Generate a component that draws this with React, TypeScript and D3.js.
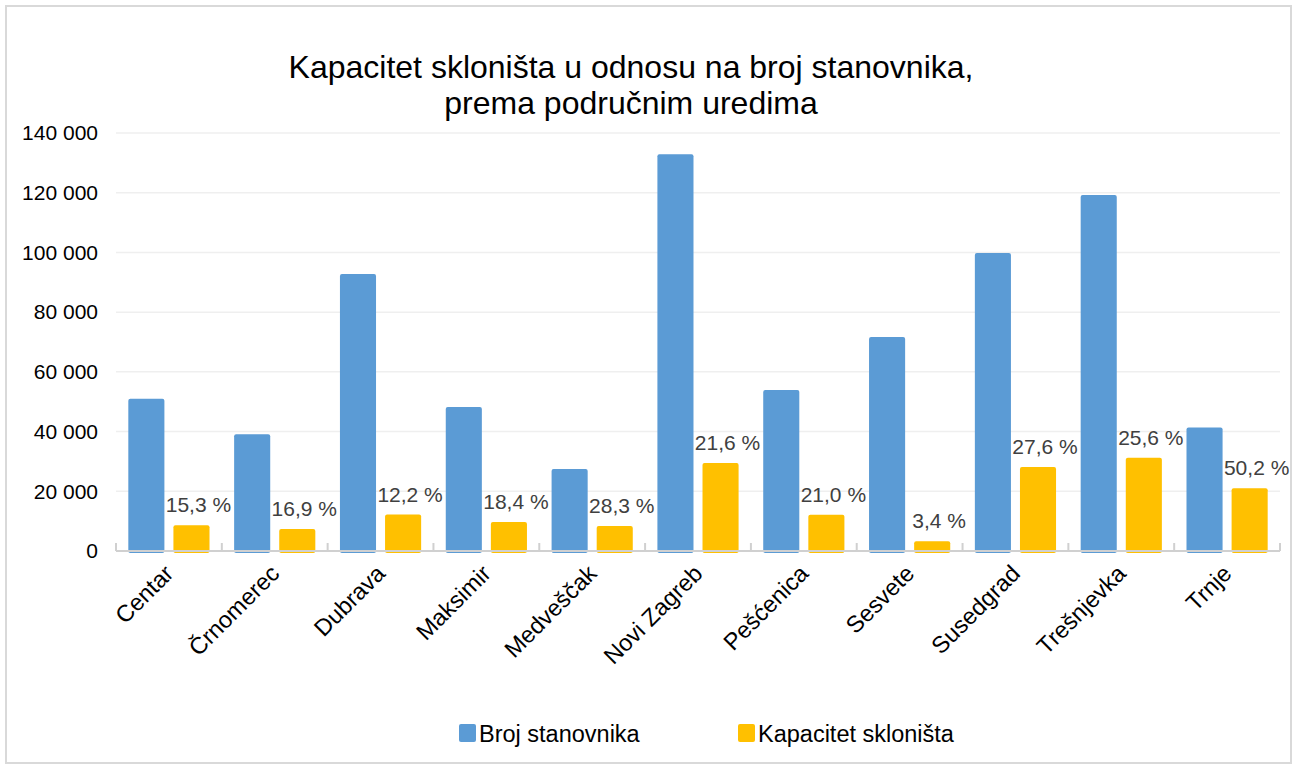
import * as d3 from "d3";

const districts = [
  "Centar",
  "Črnomerec",
  "Dubrava",
  "Maksimir",
  "Medveščak",
  "Novi Zagreb",
  "Pešćenica",
  "Sesvete",
  "Susedgrad",
  "Trešnjevka",
  "Trnje",
];
const population = [51000, 39100, 92800, 48200, 27500, 132900, 53900, 71700, 99800, 119200, 41400];
const shelterCapacity = [8600, 7400, 12200, 9700, 8400, 29500, 12100, 3300, 28100, 31200, 21000];
const shares = ["15,3 %", "16,9 %", "12,2 %", "18,4 %", "28,3 %", "21,6 %", "21,0 %", "3,4 %", "27,6 %", "25,6 %", "50,2 %"];
const yTicks = [0, 20000, 40000, 60000, 80000, 100000, 120000, 140000];
const seriesNames = ["Broj stanovnika", "Kapacitet skloništa"];
const colors = ["#5B9BD5", "#FFC000"];

const W = 1298;
const H = 769;
const font = "Arial, 'Liberation Sans', sans-serif";

export default function App() {
  const margin = { left: 116, right: 18, top: 133, bottom: 218 };
  const x = d3
    .scaleBand<string>()
    .domain(districts)
    .range([margin.left, W - margin.right])
    .padding(0);
  const inner = d3
    .scaleBand<string>()
    .domain(seriesNames)
    .range([0, x.bandwidth()])
    .paddingInner(0.2)
    .paddingOuter(0.273);
  const y = d3.scaleLinear().domain([0, 140000]).range([H - margin.bottom, margin.top]);
  const fmt = (v: number) => d3.format(",")(v).replace(/,/g, " ");
  const y0 = y(0);

  return (
    <svg
      width={W}
      height={H}
      style={{ position: "absolute", left: 0, top: 0, background: "#fff" }}
      fontFamily={font}
    >
      <rect x={6} y={6} width={1285} height={757} fill="#fff" stroke="#d9d9d9" strokeWidth={2} />

      <text x={631} y={78} textAnchor="middle" fontSize={32} fill="#000">
        <tspan x={631}>Kapacitet skloništa u odnosu na broj stanovnika,</tspan>
        <tspan x={631} dy={36}>prema područnim uredima</tspan>
      </text>

      {yTicks.map((t) => (
        <g key={t}>
          {t > 0 && (
            <line x1={margin.left} x2={W - margin.right} y1={y(t)} y2={y(t)} stroke="#efefef" strokeWidth={1.5} />
          )}
          <text x={98} y={y(t)} dy="0.35em" textAnchor="end" fontSize={21} fill="#000">
            {fmt(t)}
          </text>
        </g>
      ))}

      {districts.map((d, i) => {
        const bx = x(d)!;
        const vals = [population[i], shelterCapacity[i]];
        return (
          <g key={d}>
            {seriesNames.map((s, j) => (
              <rect
                key={s}
                x={bx + inner(s)!}
                y={y(vals[j])}
                width={inner.bandwidth()}
                height={y0 - y(vals[j]) + 2}
                rx={2}
                fill={colors[j]}
              />
            ))}
            <text
              x={bx + inner(seriesNames[1])! + inner.bandwidth() / 2 + 7}
              y={y(shelterCapacity[i]) - 13}
              textAnchor="middle"
              fontSize={21}
              fill="#404040"
            >
              {shares[i]}
            </text>
          </g>
        );
      })}

      <line x1={margin.left} x2={W - margin.right} y1={y0} y2={y0} stroke="#d0d0d0" strokeWidth={2} />
      {[...districts.map((d) => x(d)!), W - margin.right].map((tx, i) => (
        <line key={i} x1={tx} x2={tx} y1={y0} y2={y0 - 8} stroke="#d0d0d0" strokeWidth={2} />
      ))}

      {districts.map((d) => {
        const cx = x(d)! + x.bandwidth() / 2 + 6;
        return (
          <text
            key={d}
            transform={`translate(${cx},${575}) rotate(-45)`}
            textAnchor="end"
            fontSize={23.5}
            fill="#000"
          >
            {d}
          </text>
        );
      })}

      {seriesNames.map((s, j) => {
        const lx = [459, 738][j];
        return (
          <g key={s}>
            <rect x={lx} y={724} width={17} height={18} rx={2} fill={colors[j]} />
            <text x={lx + 20} y={742} fontSize={23.5} fill="#000">
              {s}
            </text>
          </g>
        );
      })}
    </svg>
  );
}
